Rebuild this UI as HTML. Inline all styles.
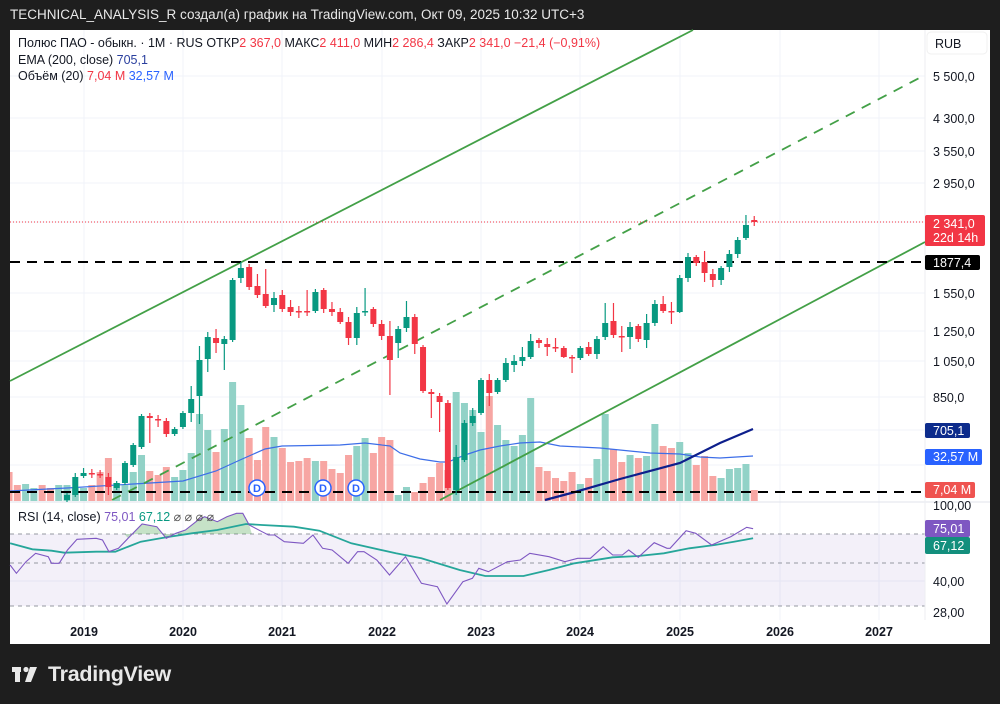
<!DOCTYPE html>
<html><head><meta charset="utf-8"><style>
body{margin:0;background:#1e1e1e;width:1000px;height:704px;overflow:hidden;font-family:"Liberation Sans",sans-serif}
#hdr{position:absolute;left:10px;top:7px;color:#e8e8e8;font-size:13.5px}
#panel{position:absolute;left:10px;top:30px;width:980px;height:614px;background:#fff}
#logo{position:absolute;color:#e8e8e8;font-size:21.5px;font-weight:bold;letter-spacing:-0.3px}
</style></head><body>
<div id="hdr">TECHNICAL_ANALYSIS_R создал(а) график на TradingView.com, Окт 09, 2025 10:32 UTC+3</div>
<div id="panel"></div>
<svg id="s" width="1000" height="704" style="position:absolute;left:0;top:0" font-family="Liberation Sans, sans-serif">
<g id="grid" stroke="#f0f3fa" stroke-width="1"></g>
<rect x="10" y="534" width="915" height="72" fill="#7e57c2" fill-opacity="0.09"/>
<g stroke="#9598a1" stroke-dasharray="4,4" stroke-width="1">
<line x1="10" y1="534" x2="925" y2="534"/><line x1="10" y1="563" x2="925" y2="563"/><line x1="10" y1="606" x2="925" y2="606"/></g>
<line x1="10" y1="502" x2="990" y2="502" stroke="#e0e3eb"/>
<line x1="925" y1="30" x2="925" y2="620" stroke="#eceef2"/>
<g id="vol"></g>
<polyline id="vma" fill="none" stroke="#3d6ee8" stroke-width="1.2"/>
<polyline points="545,500 575,492 620,479 680,463 720,443 753,429" fill="none" stroke="#0d1f8c" stroke-width="2.2"/>
<g stroke="#43a047" stroke-width="1.8" fill="none">
<line x1="10" y1="381" x2="693" y2="30"/>
<line x1="440" y1="500" x2="925" y2="242"/>
<line x1="112" y1="500" x2="925" y2="75" stroke-dasharray="10,8"/></g>
<line x1="10" y1="262" x2="925" y2="262" stroke="#000" stroke-width="2" stroke-dasharray="10,7"/>
<line x1="10" y1="492" x2="925" y2="492" stroke="#000" stroke-width="2" stroke-dasharray="10,7"/>
<line x1="10" y1="222" x2="925" y2="222" stroke="#f23645" stroke-width="1" stroke-dasharray="1,2"/>
<g id="cdl"></g>
<g fill="#fff" stroke="#2962ff" stroke-width="1.5" font-size="11" font-weight="bold">
<circle cx="257" cy="488" r="8"/><circle cx="323" cy="488" r="8"/><circle cx="356" cy="488" r="8"/></g>
<g fill="#2962ff" font-size="11" font-weight="bold" text-anchor="middle">
<text x="257" y="492">D</text><text x="323" y="492">D</text><text x="356" y="492">D</text></g>
<path id="rfill" fill="#43a047" fill-opacity="0.3"/>
<polyline id="rma" fill="none" stroke="#26a69a" stroke-width="1.8"/>
<polyline id="rsi" fill="none" stroke="#7e57c2" stroke-width="1.1"/>
<g font-size="12.5" fill="#131722">
<text x="18" y="47">Полюс ПАО - обыкн. · 1М · RUS  ОТКР<tspan fill="#f23645">2 367,0</tspan>  МАКС<tspan fill="#f23645">2 411,0</tspan>  МИН<tspan fill="#f23645">2 286,4</tspan>  ЗАКР<tspan fill="#f23645">2 341,0  −21,4 (−0,91%)</tspan></text>
<text x="18" y="64">EMA (200, close)  <tspan fill="#2a3f9e">705,1</tspan></text>
<text x="18" y="80">Объём (20)  <tspan fill="#f23645">7,04 M</tspan>  <tspan fill="#2962ff">32,57 M</tspan></text>
<text x="18" y="521">RSI (14, close)  <tspan fill="#7e57c2">75,01</tspan>  <tspan fill="#089981">67,12</tspan>  <tspan fill="#555">⌀  ⌀  ⌀  ⌀</tspan></text>
</g>
<rect x="927" y="32" width="60" height="22" rx="4" fill="#fff" stroke="#f0f0f0"/>
<text x="935" y="48" font-size="12.5" fill="#131722">RUB</text>
<g font-size="12.5" fill="#131722">
<text x="933" y="81">5 500,0</text><text x="933" y="123">4 300,0</text><text x="933" y="156">3 550,0</text><text x="933" y="188">2 950,0</text>
<text x="933" y="298">1 550,0</text><text x="933" y="336">1 250,0</text><text x="933" y="366">1 050,0</text><text x="933" y="402">850,0</text>
<text x="933" y="510">100,00</text><text x="933" y="586">40,00</text><text x="933" y="617">28,00</text></g>
<g font-size="12.5" fill="#fff">
<rect x="925" y="215" width="60" height="31" rx="2" fill="#f23645"/><text x="933" y="228">2 341,0</text><text x="933" y="242">22d 14h</text>
<rect x="925" y="255" width="55" height="15" rx="2" fill="#000"/><text x="933" y="267">1877,4</text>
<rect x="925" y="423" width="45" height="15" rx="2" fill="#0d2c8c"/><text x="933" y="435">705,1</text>
<rect x="925" y="449" width="57" height="16" rx="2" fill="#2962ff"/><text x="933" y="461">32,57 M</text>
<rect x="925" y="482" width="50" height="16" rx="2" fill="#ef5350"/><text x="933" y="494">7,04 M</text>
<rect x="925" y="520" width="45" height="17" rx="2" fill="#7e57c2"/><text x="933" y="533">75,01</text>
<rect x="925" y="537" width="45" height="17" rx="2" fill="#138f7d"/><text x="933" y="550">67,12</text>
</g>
<g font-size="12.5" font-weight="bold" fill="#131722" text-anchor="middle">
<text x="84" y="636">2019</text><text x="183" y="636">2020</text><text x="282" y="636">2021</text><text x="382" y="636">2022</text><text x="481" y="636">2023</text><text x="580" y="636">2024</text><text x="680" y="636">2025</text><text x="780" y="636">2026</text><text x="879" y="636">2027</text></g>
<g fill="#e8e8e8"><rect x="12" y="667" width="9" height="5"/><rect x="15" y="667" width="5" height="15"/><circle cx="26" cy="669.5" r="2.6"/><polygon points="30,667 37,667 31,682 25,682"/></g>
</svg>
<div id="logo" style="left:48px;top:662px">TradingView</div>
<script>
const NS="http://www.w3.org/2000/svg";
function el(p,t,a){const e=document.createElementNS(NS,t);for(const k in a)e.setAttribute(k,a[k]);document.getElementById(p).appendChild(e);return e;}
[84,183,282,382,481,580,680,780,879].forEach(x=>el('grid','line',{x1:x,y1:30,x2:x,y2:620}));
[76,118,151,183,222,293,331,361,397,430,465,581].forEach(y=>el('grid','line',{x1:10,y1:y,x2:925,y2:y}));
const X=i=>67+i*8.28;
const vol=[[472,'r'],[485,'r'],[484,'g'],[488,'g'],[485,'r'],[488,'r'],[485,'g'],[485,'g'],[488,'g'],[488,'g'],[485,'r'],[472,'r'],[458,'r'],[483,'g'],[485,'g'],[472,'g'],[455,'g'],[471,'r'],[475,'r'],[467,'r'],[477,'g'],[470,'g'],[453,'g'],[414,'g'],[430,'g'],[452,'r'],[429,'g'],[382,'g'],[405,'g'],[438,'r'],[460,'r'],[427,'r'],[437,'g'],[448,'r'],[462,'r'],[461,'r'],[458,'r'],[461,'g'],[461,'r'],[469,'r'],[473,'r'],[455,'r'],[446,'g'],[438,'g'],[453,'r'],[437,'r'],[440,'r'],[495,'g'],[487,'g'],[492,'r'],[483,'r'],[477,'r'],[463,'r'],[470,'r'],
[392,'g'],[403,'g'],[410,'g'],[432,'g'],[396,'r'],[425,'g'],[440,'g'],[446,'g'],[435,'g'],[398,'g'],[467,'r'],[471,'r'],[478,'r'],[481,'r'],[472,'r'],[484,'g'],[478,'r'],[459,'g'],[414,'g'],[449,'r'],[462,'r'],[455,'g'],[458,'r'],[456,'g'],[424,'g'],[446,'r'],[448,'r'],[442,'g'],[453,'g'],[465,'r'],[456,'r'],[476,'r'],[478,'g'],[469,'g'],[468,'g'],[464,'g'],[490,'r']];
vol.forEach((v,k)=>{const x=X(k-7);el('vol','rect',{x:Math.max(10,x-3.5),y:v[0],width:x-3.5<10?x+3.5-10:7,height:501-v[0],fill:v[1]=='g'?'#92d2c7':'#f7a6a3'});});
document.getElementById('vma').setAttribute('points',"10,491 67,488 150,483 183,481 216,471 240,460 265,449 282,446 340,445 365,443 390,446 400,453 420,459 440,462 448,462 465,455 480,450 500,446 520,443 540,442 560,446 600,448 650,453 680,454 700,457 720,458 753,456");
const c=[['g',495,500],['g',477,495,473,497],['g',473,476,468,478],['r',473,474,469,478],['r',474,475,470,478],['r',477,487,473,495],['g',483,488],['g',463,483],['g',445,465],['g',416,447],['r',416,418,413,443],['r',419,420,415,427],['r',421,434,418,437],['g',429,434],['g',413,427],['g',399,413,386,422],['g',360,396,346,424],['g',337,359,332,372],['r',338,343,329,353],['g',339,344,336,370],['g',280,340],['g',268,278,262,283],['r',267,287,264,290],['r',286,295,274,298],['r',294,306,269,308],['g',298,305,292,312],['r',295,309,290,312],['r',307,312,300,316],['r',311,312,306,318],['r',311,312,290,316],['g',292,311,289,313],['r',290,309,288,313],['r',309,312,302,316],['r',312,322,308,324],['r',322,338,317,345],['g',313,338,307,345],['g',311,312,288,316],['r',309,324,307,327],['r',324,336,320,340],['r',336,360,321,395],['g',329,343,326,358],['g',317,328,301,332],['r',317,344,314,354],['r',347,391,345,393],['r',392,394,389,418],['r',396,402,393,432],['r',403,488,400,490],['g',457,490,445,495],['g',423,460,420,462],['g',416,423,408,426],['g',380,413,378,415],['r',380,393,374,406],['g',380,392,378,394],['g',363,380,358,382],['g',361,365,355,372],['g',357,361,347,366],['g',341,357,334,359],['r',340,343,338,348],['r',344,347,338,356],['r',347,348,338,352],['r',348,357,346,358],['r',357,358,355,373],['g',348,358,346,360],['r',347,354,342,356],['g',339,354,336,359],['g',323,337,303,340],['r',321,335,303,338],['r',336,337,326,352],['g',327,337,322,349],['r',326,339,324,342],['g',323,340,314,348],['g',304,323,300,326],['r',304,311,296,313],['r',311,312,302,324],['g',278,312,275,313],['g',257,278,253,282],['r',257,263,255,266],['r',262,273,251,282],['r',274,280,269,287],['g',268,280,266,285],['g',254,267,250,272],['g',240,254,237,258],['g',225,238,215,240],['r',220,222,216,226]];
c.forEach((d,i)=>{const x=X(i),col=d[0]=='g'?'#089981':'#f23645';const wt=d[3]||d[1]-2,wb=d[4]||d[2]+2;
el('cdl','line',{x1:x,y1:wt,x2:x,y2:wb,stroke:col,'stroke-width':1.2});
el('cdl','rect',{x:x-3,y:d[1],width:6,height:Math.max(1.5,d[2]-d[1]),fill:col});});
const rz=[[15,195],[25,220],[40,185],[55,160],[75,170],[80,190],[92,190],[105,150],[120,118],[150,115],[160,120],[170,155],[185,145],[200,115],[222,72],[245,80],[260,115],[275,100],[290,90],[310,60],[320,50],[340,65],[355,50],[370,40],[380,40],[390,75],[410,95],[420,105],[430,105],[445,125],[475,130],[490,105],[505,145],[520,150],[545,190],[560,155],[570,155],[590,180],[610,225],[635,170],[660,250],[685,260],[700,312],[725,245],[740,235],[750,205],[765,215],[795,185],[815,180],[830,160],[860,170],[885,185],[905,175],[925,175],[945,140],[960,165],[975,165],[985,150],[1000,172],[1025,128],[1045,145],[1050,145],[1075,92],[1090,100],[1115,135],[1145,110],[1170,82],[1180,86]];
const mz=[[15,130],[50,148],[80,152],[100,158],[150,155],[180,155],[220,125],[260,112],[300,100],[340,90],[385,72],[410,75],[460,80],[500,92],[550,130],[620,160],[660,175],[720,210],[760,228],[790,228],[820,228],[860,210],[900,190],[960,172],[1000,168],[1040,160],[1080,145],[1120,135],[1150,125],[1180,115]];
const P=a=>a.map(p=>(p[0]/1.568+0.5).toFixed(1)+','+(500+p[1]/3).toFixed(1)).join(' ');
document.getElementById('rsi').setAttribute('points',P(rz));
document.getElementById('rma').setAttribute('points',P(mz));
const fz=rz.filter(p=>p[0]>=200&&p[0]<=395);
document.getElementById('rfill').setAttribute('d','M'+(195/1.568)+',534 L'+P(fz).replace(/ /g,' L')+' L'+(395/1.568)+',534 Z');
</script>
</body></html>
